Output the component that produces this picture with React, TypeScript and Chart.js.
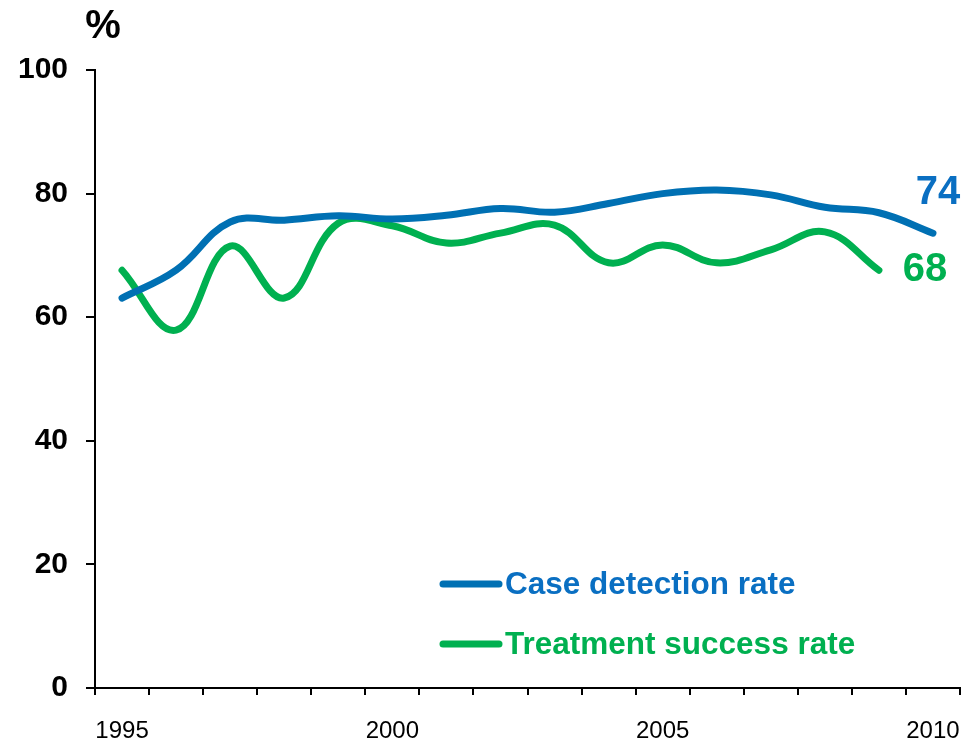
import React, { useEffect, useRef } from "react";
import { Chart, registerables } from "chart.js";

Chart.register(...registerables);

const years = ["1995","1996","1997","1998","1999","2000","2001","2002","2003","2004","2005","2006","2007","2008","2009","2010"];
const caseDetection = [63.1, 67.6, 75.4, 75.7, 76.4, 75.9, 76.5, 77.6, 77.0, 78.4, 80.0, 80.6, 79.8, 77.8, 76.9, 73.6];
const treatmentSuccess = [67.6, 57.9, 71.5, 63.1, 75.2, 74.8, 72.0, 73.6, 74.9, 68.8, 71.7, 68.8, 70.9, 73.8, 67.6, null];
const yTicks = [0, 20, 40, 60, 80, 100];
const seriesNames = ["Case detection rate", "Treatment success rate"];
const lineColors = ["#0070B3", "#00B050"];
const textColors = ["#0A6FC2", "#00B050"];
const endLabels = ["74", "68"];

const FONT = "'Liberation Sans', Arial, Helvetica, sans-serif";

const overlayPlugin = {
  id: "overlay",
  afterDatasetsDraw(chart: any) {
    const { ctx, chartArea } = chart;
    ctx.save();
    // "%" unit label
    ctx.font = `bold 40px ${FONT}`;
    ctx.fillStyle = "#000";
    ctx.textAlign = "center";
    ctx.textBaseline = "middle";
    ctx.fillText("%", chartArea.left + 8, 27);

    // end labels
    const offsets = [[5, -40], [46, 0]];
    chart.data.datasets.forEach((ds: any, i: number) => {
      const meta = chart.getDatasetMeta(i);
      let idx = ds.data.length - 1;
      while (idx >= 0 && ds.data[idx] == null) idx--;
      const pt = meta.data[idx];
      if (!pt) return;
      ctx.font = `bold 40px ${FONT}`;
      ctx.fillStyle = textColors[i];
      ctx.textAlign = "center";
      ctx.textBaseline = "middle";
      ctx.fillText(endLabels[i], pt.x + offsets[i][0], pt.y + offsets[i][1]);
    });

    // legend
    const lx = chartArea.left + 348;
    const rows = [chartArea.bottom - 104, chartArea.bottom - 44];
    seriesNames.forEach((name, i) => {
      const y = rows[i];
      ctx.strokeStyle = lineColors[i];
      ctx.lineWidth = 7;
      ctx.lineCap = "round";
      ctx.beginPath();
      ctx.moveTo(lx, y);
      ctx.lineTo(lx + 56, y);
      ctx.stroke();
      ctx.font = `bold 31.5px ${FONT}`;
      ctx.fillStyle = textColors[i];
      ctx.textAlign = "left";
      ctx.textBaseline = "middle";
      ctx.fillText(name, lx + 62, y + 1);
    });
    ctx.restore();
  },
};

export default function App() {
  const ref = useRef<HTMLCanvasElement>(null);
  useEffect(() => {
    if (!ref.current) return;
    const chart = new Chart(ref.current, {
      type: "line",
      data: {
        labels: years,
        datasets: [
          {
            label: seriesNames[0],
            data: caseDetection,
            borderColor: lineColors[0],
            borderWidth: 7,
            tension: 0.4,
            pointRadius: 0,
            borderCapStyle: "round",
            fill: false,
          },
          {
            label: seriesNames[1],
            data: treatmentSuccess,
            borderColor: lineColors[1],
            borderWidth: 7,
            tension: 0.4,
            pointRadius: 0,
            borderCapStyle: "round",
            fill: false,
            spanGaps: false,
          },
        ],
      },
      options: {
        animation: false,
        responsive: false,
        maintainAspectRatio: false,
        layout: { padding: { top: 70, right: 7, left: 0, bottom: 0 } },
        plugins: { legend: { display: false }, tooltip: { enabled: false }, title: { display: false } },
        scales: {
          x: {
            type: "category",
            offset: true,
            afterFit: (s: any) => { s.height = 59; s.paddingLeft = 0; s.paddingRight = 0; },
            grid: { offset: true, drawOnChartArea: false, drawTicks: true, tickLength: 7, color: "#000", lineWidth: 2 },
            border: { display: true, color: "#000", width: 2 },
            ticks: {
              autoSkip: false,
              maxRotation: 0,
              padding: 22,
              color: "#000",
              font: { family: FONT, size: 24 },
              callback: (_v: any, i: number) => (Number(years[i]) % 5 === 0 ? years[i] : ""),
            },
          },
          y: {
            min: 0,
            max: 100,
            afterFit: (s: any) => { s.width = 95; s.paddingTop = 0; s.paddingBottom = 0; },
            afterBuildTicks: (s: any) => { s.ticks = yTicks.map((v) => ({ value: v })); },
            grid: { drawOnChartArea: false, drawTicks: true, tickLength: 9, color: "#000", lineWidth: 2 },
            border: { display: true, color: "#000", width: 2 },
            ticks: {
              padding: 18,
              color: "#000",
              font: { family: FONT, size: 30, weight: "bold" },
            },
          },
        },
      },
      plugins: [overlayPlugin],
    });
    return () => chart.destroy();
  }, []);
  return (
    <div style={{ position: "absolute", left: 0, top: 0, width: 967, height: 747, background: "#fff" }}>
      <canvas ref={ref} width={967} height={747} style={{ width: 967, height: 747, display: "block" }} />
    </div>
  );
}
